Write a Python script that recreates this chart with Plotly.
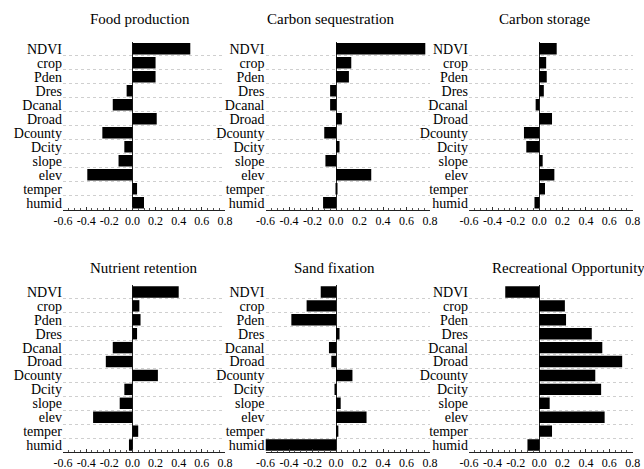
import plotly.graph_objects as go
from plotly.subplots import make_subplots

categories = ["NDVI", "crop", "Pden", "Dres", "Dcanal", "Droad", "Dcounty",
              "Dcity", "slope", "elev", "temper", "humid"]

food_production = [0.50, 0.20, 0.20, -0.05, -0.17, 0.21, -0.26, -0.07, -0.12, -0.39, 0.04, 0.10]
carbon_sequestration = [0.76, 0.13, 0.11, -0.05, -0.05, 0.05, -0.10, 0.03, -0.09, 0.30, 0.01, -0.11]
carbon_storage = [0.15, 0.06, 0.065, 0.04, -0.03, 0.11, -0.13, -0.11, 0.03, 0.13, 0.05, -0.04]
nutrient_retention = [0.40, 0.06, 0.07, 0.04, -0.17, -0.23, 0.22, -0.07, -0.11, -0.34, 0.05, -0.03]
sand_fixation = [-0.13, -0.25, -0.38, 0.03, -0.06, -0.04, 0.14, -0.01, 0.04, 0.26, 0.02, -0.60]
recreational_opportunity = [-0.29, 0.22, 0.23, 0.45, 0.54, 0.71, 0.48, 0.53, 0.09, 0.56, 0.11, -0.10]

titles = ["Food production", "Carbon sequestration", "Carbon storage",
          "Nutrient retention", "Sand fixation", "Recreational Opportunity"]
series = [food_production, carbon_sequestration, carbon_storage,
          nutrient_retention, sand_fixation, recreational_opportunity]

x_tick_vals = [-0.6, -0.4, -0.2, 0.0, 0.2, 0.4, 0.6, 0.8]
x_tick_text = ["-0.6", "-0.4", "-0.2", "0.0", "0.2", "0.4", "0.6", "0.8"]

W, H = 644, 469
FONT_TITLE = "Times New Roman"
FONT_TICK = "Liberation Serif"
FONT_CAT = "serif"

fig = make_subplots(rows=2, cols=3)

col_px = [(63, 225), (265.5, 430), (469, 632.7)]
row_px = [(41.7, 209.7), (285, 452)]
title_pos = [(140, 19), (330.5, 19), (545, 19), (144, 268), (334, 268), (568, 268)]

positions = list(range(len(categories)))

for i, (vals, title) in enumerate(zip(series, titles)):
    r, c = i // 3 + 1, i % 3 + 1
    fig.add_trace(go.Bar(x=vals, y=positions, orientation="h",
                         marker=dict(color="black", line=dict(width=0)),
                         width=0.82, showlegend=False), row=r, col=c)
    x0, x1 = col_px[c - 1]
    yt, yb = row_px[r - 1]
    fig.update_xaxes(domain=[x0 / W, x1 / W], range=[-0.6, 0.8], automargin=False,
                     tickvals=x_tick_vals, ticktext=x_tick_text,
                     ticks="inside", ticklen=3, tickcolor="#333",
                     minor=dict(dtick=0.05, tick0=0, ticks="inside", ticklen=2, tickcolor="#555"),
                     showline=True, linecolor="#222", linewidth=1,
                     showgrid=False, zeroline=True, zerolinecolor="#222", zerolinewidth=1,
                     tickfont=dict(family=FONT_TICK, size=12, color="black"),
                     row=r, col=c)
    fig.update_yaxes(domain=[1 - yb / H, 1 - yt / H], range=[11.5, -0.5], automargin=False,
                     tickvals=positions, ticktext=categories,
                     ticks="", showline=False, showgrid=False, zeroline=False,
                     minor=dict(tick0=0.5, dtick=1, showgrid=True, gridcolor="#cfcfcf",
                                griddash="dot", gridwidth=1, ticks=""),
                     tickfont=dict(family=FONT_CAT, size=14, color="black"),
                     row=r, col=c)
    tx, ty = title_pos[i]
    fig.add_annotation(text=title, x=tx / W, y=1 - ty / H, xref="paper", yref="paper",
                       xanchor="center", yanchor="middle", showarrow=False,
                       font=dict(family=FONT_TITLE, size=15, color="black"))

fig.update_layout(template="none", width=W, height=H, margin=dict(l=0, r=0, t=0, b=0),
                  font=dict(family=FONT_TITLE, color="black"),
                  paper_bgcolor="white", plot_bgcolor="white", bargap=0.18)

fig.write_html("out.html", config={"displayModeBar": False},
               post_script="document.body.style.margin='0';")
